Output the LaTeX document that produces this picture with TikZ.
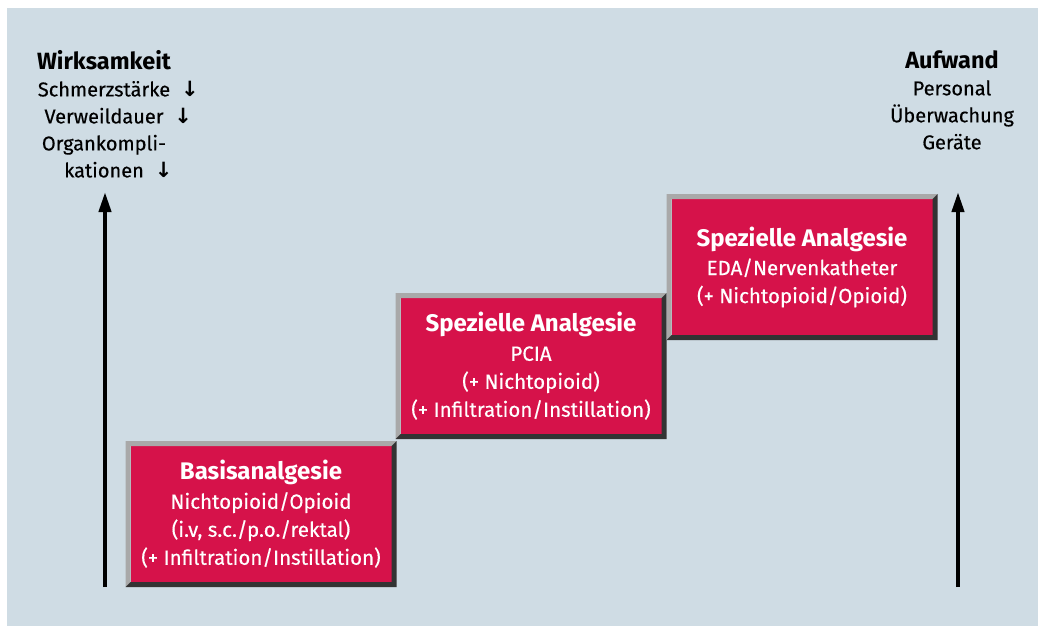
\documentclass[tikz,border=0pt]{standalone}
\usepackage{fontspec}
\setmainfont{Fira Sans}
\newfontfamily\kraeftig{Fira Sans}[FakeBold=0.4]
\newfontfamily\pfeilfont{DejaVu Sans}
\usetikzlibrary{arrows.meta}

\definecolor{hinter}{HTML}{CFDCE4}
\definecolor{stufenrot}{HTML}{D6124A}
\definecolor{hell}{HTML}{A9A9A9}
\definecolor{dunkel}{HTML}{333333}

\newcommand{\runter}{\rlap{\hspace{0.55em}{\pfeilfont\bfseries\fontsize{21}{21}\selectfont ↓}}}
\newcommand{\stitel}[1]{{\normalfont\bfseries\fontsize{24}{30}\selectfont #1}}
\newcommand{\skopf}[1]{{\normalfont\bfseries\fontsize{23.5}{27}\selectfont #1}}

\tikzstyle{stufe} = [fill=stufenrot, text=white, align=center, minimum width=261pt,
    minimum height=136pt, inner sep=0pt, outer sep=0pt, font=\kraeftig\fontsize{20.5}{28}\selectfont]
\tikzstyle{seite} = [align=center, font=\kraeftig\fontsize{20}{27}\selectfont]
\tikzstyle{achse} = [line width=4pt, -{Triangle[width=12pt,length=20pt]}]

\begin{document}
\begin{tikzpicture}[x=1pt, y=-1pt]
\useasboundingbox (0,0) rectangle (1038,626);
\fill[hinter] (7,8) rectangle (1038,626);

\node[stufe] (basis) at (261,514) {\stitel{Basisanalgesie}\\[1pt]
    Nichtopioid/Opioid\\ (i.v, s.c./p.o./rektal)\\ (+ Infiltration/Instillation)};
\node[stufe] (pcia) at (531,366) {\stitel{Spezielle Analgesie}\\[1pt]
    PCIA\\ (+ Nichtopioid)\\ (+ Infiltration/Instillation)};
\node[stufe] (eda) at (802,267) {\stitel{Spezielle Analgesie}\\[1pt]
    EDA/Nervenkatheter\\ (+ Nichtopioid/Opioid)};

\foreach \s in {basis,pcia,eda} {
    \fill[hell] ([shift={(-5pt,-5pt)}]\s.south west) -- ([shift={(-5pt,5pt)}]\s.north west)
        -- ([shift={(5pt,5pt)}]\s.north east) -- (\s.north east) -- (\s.north west)
        -- (\s.south west) -- cycle;
    \fill[dunkel] ([shift={(5pt,5pt)}]\s.north east) -- ([shift={(5pt,-5pt)}]\s.south east)
        -- ([shift={(-5pt,-5pt)}]\s.south west) -- (\s.south west) -- (\s.south east)
        -- (\s.north east) -- cycle;
}

\node[seite] (wirk) at (104,114) {\skopf{Wirksamkeit}\\ Schmerzstärke\runter\\
    Verweildauer\runter\\ Organkompli-\\ kationen\runter};
\node[seite] (aufw) at (952,100) {\skopf{Aufwand}\\ Personal\\ Überwachung\\ Geräte};

\coordinate (wfuss) at (105,587);
\coordinate (wkopf) at (105,192);
\coordinate (afuss) at (958,587);
\coordinate (akopf) at (958,192);
\draw[achse] (wfuss) -- (wkopf);
\draw[achse] (afuss) -- (akopf);
\end{tikzpicture}
\end{document}
